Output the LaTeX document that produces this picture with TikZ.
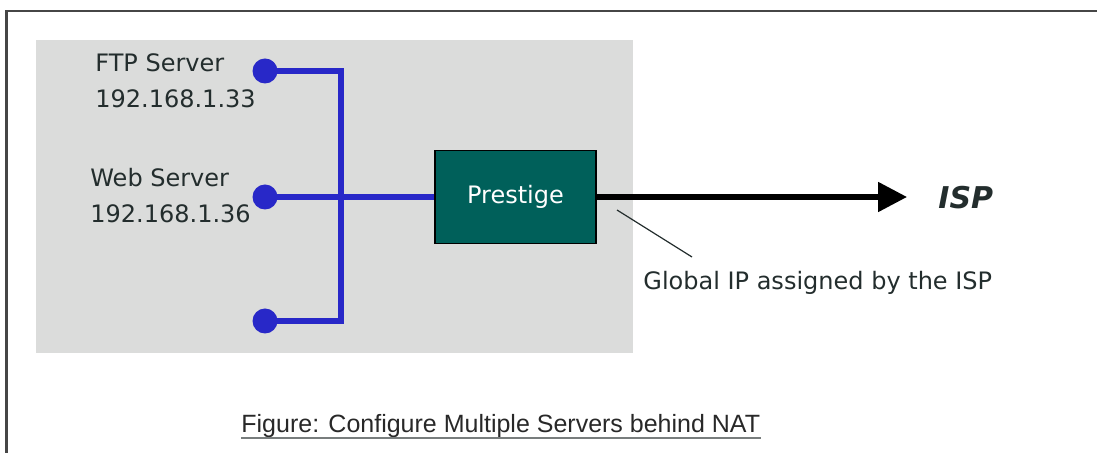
\documentclass[tikz,border=0pt]{standalone}
\usepackage{fontspec}
\setmainfont{DejaVu Sans}
\newfontfamily\capfont{Liberation Sans}
\usetikzlibrary{arrows.meta}
\definecolor{framegray}{RGB}{70,70,70}
\definecolor{areagray}{RGB}{219,220,219}
\definecolor{netblue}{RGB}{40,40,200}
\definecolor{routerteal}{RGB}{0,96,90}
\definecolor{txt}{RGB}{35,45,45}
\definecolor{captxt}{RGB}{40,40,40}
\definecolor{ulgray}{RGB}{120,125,125}
\tikzset{
  lbl/.style={anchor=base west, inner sep=0pt, text=txt, font=\fontsize{12}{14}\selectfont},
  dot/.style={circle, fill=netblue, inner sep=0pt, minimum size=12.5pt},
  wire/.style={draw=netblue, line width=2.8pt},
  box/.style={draw=black, line width=0.6pt, fill=routerteal, minimum width=80.5pt, minimum height=46.5pt, inner sep=0pt, text=white, font=\fontsize{12}{14}\selectfont},
  uplink/.style={draw=black, line width=2.6pt, -{Triangle[length=14.5pt,width=14.5pt]}},
}
\begin{document}
\begin{tikzpicture}[x=0.5pt,y=-0.5pt]
\useasboundingbox (0,0) rectangle (1097,453);
% frame
\draw[framegray, line width=1.3pt] (6.5,453) -- (6.5,11) -- (1097,11);
% shaded area
\fill[areagray] (36,40) rectangle (633,353);
% labels
\node[lbl] (ftp) at (95,72) {FTP Server};
\node[lbl] (ftpip) at (95,108) {192.168.1.33};
\node[lbl] (web) at (90,186.5) {Web Server};
\node[lbl] (webip) at (90,222.5) {192.168.1.36};
% dots
\node[dot] (d1) at (265,71) {};
\node[dot] (d2) at (265,197) {};
\node[dot] (d3) at (265,321) {};
\coordinate (j1) at (341,71);
\coordinate (j3) at (341,321);
% router
\node[box] (prestige) at (515.5,197) {Prestige};
% wires
\draw[wire] (d1.center) -- (j1) -- (j3) -- (d3.center);
\draw[wire] (d2.center) -- (prestige.west);
% uplink
\coordinate (tip) at (907,197);
\draw[uplink] (prestige.east) -- (tip);
\node[anchor=base west, inner sep=0pt, text=txt, font=\fontsize{15}{18}\selectfont\bfseries\itshape] (isp) at (938,209) {ISP};
% leader
\coordinate (l1) at (617,210);
\coordinate (l2) at (692,257);
\draw[txt, line width=0.6pt] (l1) -- (l2);
\node[lbl] (global) at (643,290) {Global IP assigned by the ISP};
% caption
\node[anchor=base west, inner sep=0pt, text=captxt, font=\capfont\fontsize{12.5}{15}\selectfont] (caption) at (241,433) {Figure: Configure Multiple Servers behind NAT};
\draw[ulgray, line width=1.3pt] ([yshift=-2.5pt]caption.base west) -- ([yshift=-2.5pt]caption.base east);
\end{tikzpicture}
\end{document}
